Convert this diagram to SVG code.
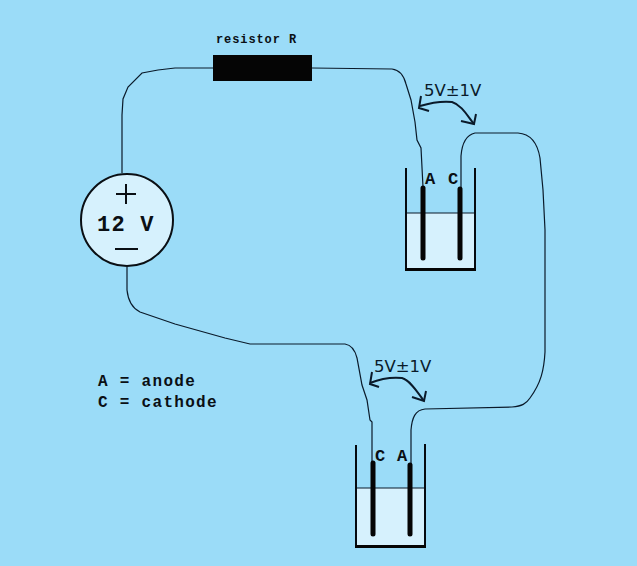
<svg xmlns="http://www.w3.org/2000/svg" width="637" height="566" viewBox="0 0 637 566">
<style>
.wire{fill:none;stroke:#0a1a2a;stroke-width:1.2}
.arc{fill:none;stroke:#0a1a2a;stroke-width:2}
.glass{fill:none;stroke:#050a10;stroke-width:2}
.water{fill:#d6f1fd}
.line{stroke:#0a1a2a;stroke-width:1.2}
.base{fill:#050505}
.el{stroke:#050505;stroke-width:5;stroke-linecap:round}
.m{font-family:"Liberation Mono","DejaVu Sans Mono",monospace;font-weight:bold;fill:#0a0f14}
.d{font-family:"DejaVu Sans","Liberation Sans",sans-serif;fill:#0a1a2a}
</style>
<rect width="637" height="566" fill="#9bdcf8"/>
<g id="connectors">
<path class="wire" d="M122 173V115L123 99L128 87L142 73L158 70L175 68H213"/>
<path class="wire" d="M312 68L392 69C400 70 404 76 406 84L411 100L415 122L417 140L421 148L423 187"/>
<path class="wire" d="M461 188V156C462 143 466 135 475 133H518C532 134 538 146 540 158L543 190L545 230V352C544 370 541 383 530 398C526 404 522 406 512 407L425 409C415 410 412 418 411 430V464"/>
<path class="wire" d="M127 267V290C128 300 132 308 140 312L175 324L225 338L250 344H345C352 345 355 350 357 358L362 385L367 400L370 420L372 422V462"/>
<path class="arc" d="M420 106C430 103 442 101 452 102C462 105 468 117 474 124"/>
<path class="arc" d="M421 96L419 108L429 111M461 121L474 124L476 114"/>
<path class="arc" d="M370 383C380 379 392 377 402 378C410 380 418 393 424 401"/>
<path class="arc" d="M372 372L370 384L379 387M412 397L424 401L426 391"/>
</g>
<g id="resistor">
<rect class="base" x="213" y="55" width="99" height="26"/>
<text class="m" x="216" y="43" font-size="12" letter-spacing="0.9">resistor R</text>
</g>
<g id="source">
<circle cx="127" cy="220" r="46" fill="#d6f1fd" stroke="#0a0f14" stroke-width="2"/>
<path d="M126 184V204M116 194H136M115 249H138" stroke="#0a0f14" stroke-width="2" fill="none"/>
<text class="m" x="97" y="231" font-size="22" letter-spacing="1.2">12 V</text>
</g>
<g id="cell-top">
<rect class="water" x="406" y="213" width="69" height="56"/>
<line class="line" x1="406" y1="213" x2="475" y2="213"/>
<path class="glass" d="M406 168V269"/>
<path class="glass" d="M475 168V269"/>
<rect class="base" x="405" y="268" width="71" height="3"/>
<line class="el" x1="423" y1="188" x2="423" y2="258"/>
<line class="el" x1="460" y1="189" x2="460" y2="258"/>
<text class="m" x="425" y="184" font-size="17">A</text>
<text class="m" x="448" y="184" font-size="17">C</text>
<text class="d" x="424" y="96" font-size="16.5">5V±1V</text>
</g>
<g id="cell-bottom">
<rect class="water" x="356" y="488" width="69" height="57"/>
<line class="line" x1="356" y1="488" x2="425" y2="488"/>
<path class="glass" d="M356 445V546"/>
<path class="glass" d="M425 444V546"/>
<rect class="base" x="355" y="545" width="71" height="3"/>
<line class="el" x1="373" y1="463" x2="373" y2="534"/>
<line class="el" x1="410" y1="465" x2="410" y2="534"/>
<text class="m" x="375" y="461" font-size="17">C</text>
<text class="m" x="397" y="461" font-size="17">A</text>
<text class="d" x="374" y="372" font-size="16.5">5V±1V</text>
</g>
<g id="legend">
<text class="m" x="98" y="386" font-size="16" letter-spacing="1.3">A = anode</text>
<text class="m" x="98" y="407" font-size="16" letter-spacing="1.3">C = cathode</text>
</g>
</svg>
